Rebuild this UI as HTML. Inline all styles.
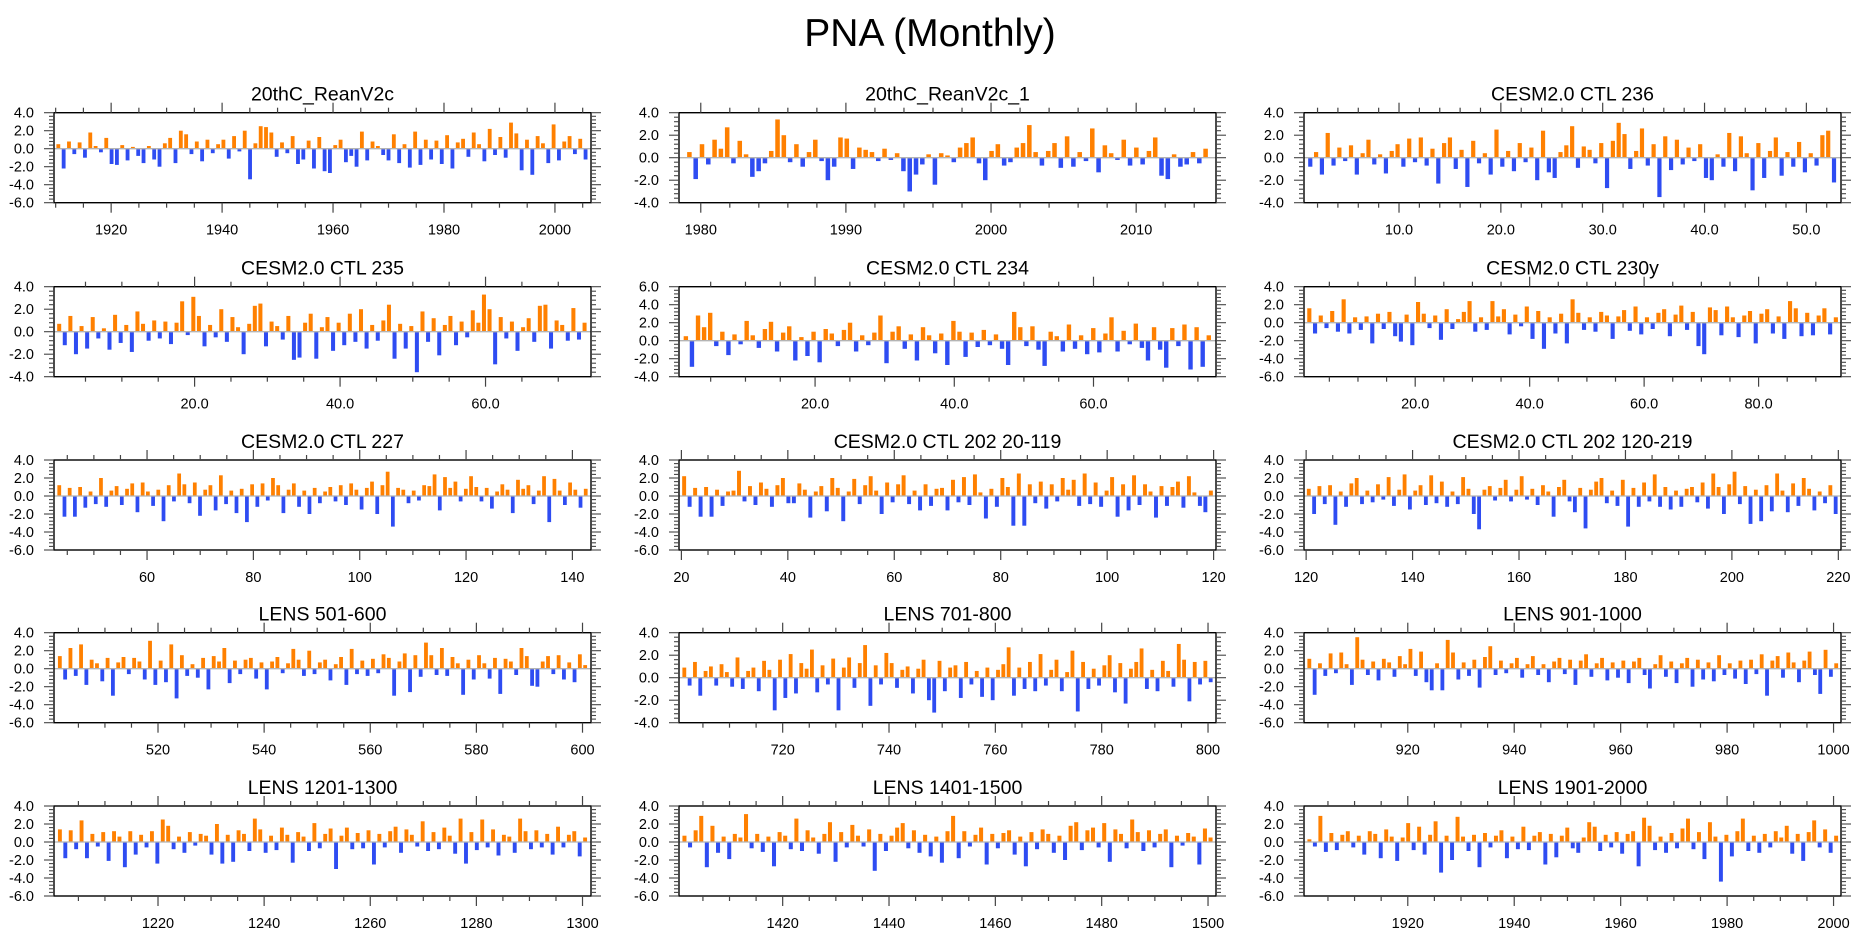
<!DOCTYPE html>
<html><head><meta charset="utf-8"><title>PNA (Monthly)</title>
<style>
html,body{margin:0;padding:0;background:#fff;}
svg text{font-family:"Liberation Sans",Arial,sans-serif;fill:#000;}
</style></head>
<body>
<svg id="fig" xmlns="http://www.w3.org/2000/svg" width="1861" height="936" viewBox="0 0 1861 936">
<rect width="1861" height="936" fill="#fff"/>
<text x="930" y="46" font-size="39" text-anchor="middle">PNA (Monthly)</text>
</svg>
<script>
// ---- panel meta ----
const titles = ["20thC_ReanV2c","20thC_ReanV2c_1","CESM2.0 CTL 236","CESM2.0 CTL 235","CESM2.0 CTL 234","CESM2.0 CTL 230y","CESM2.0 CTL 227","CESM2.0 CTL 202 20-119","CESM2.0 CTL 202 120-219","LENS 501-600","LENS 701-800","LENS 901-1000","LENS 1201-1300","LENS 1401-1500","LENS 1901-2000"];
const xMins = [1909.7,1978.5,0.67,0.67,0.45,0.57,42.5,19.55,119.6,500.4,700.5,900.5,1200.4,1400.5,1900.5];
const xMaxs = [2006.5,2015.5,53.4,74.5,77.6,94.4,143.5,120.45,220.5,601.6,801.5,1001.4,1301.6,1501.5,2001.4];
const dataStart = [1910,1979,1,1,1,1,43,20,120,501,701,901,1201,1401,1901];
const dataEnd = [2006,2015,53,74,77,94,143,120,220,601,801,1001,1301,1501,2001];
const xMajorStep = [20,10,10,20,20,20,20,20,20,20,20,20,20,20,20];
const xMinorStep = [5,2,2,5,5,5,5,5,5,5,5,5,5,5,5];
const xDecimals = [0,0,1,1,1,1,0,0,0,0,0,0,0,0,0];
const yMins = [-6,-4,-4,-4,-4,-6,-6,-6,-6,-6,-4,-6,-6,-6,-6];
const yMaxs = [4,4,4,4,6,4,4,4,4,4,4,4,4,4,4];

// ---- series values (PNA index, estimated) ----
const s1 = [0.5,-2.2,0.8,-0.6,0.7,-1.0,1.8,0.3,-0.4,1.2,-1.7,-1.8,0.4,-1.3,0.2,-0.8,-1.6,0.3,-1.2,-2.0,0.6,1.2,-1.6,2.0,1.6,-0.6,0.8,-1.4,1.0,-0.5,0.5,1.0,-1.1,1.4,-0.3,2.0,-3.4,0.6,2.5,2.4,1.8,-0.9,0.7,-0.5,1.4,-1.7,-1.2,0.9,-2.2,1.3,-2.5,-2.7,0.4,1.0,-1.5,-0.8,-2.0,1.9,-1.3,0.8,0.3,-0.7,-1.3,1.6,-1.6,0.5,-2.1,1.9,-1.8,1.0,-1.2,0.9,-1.7,1.5,-2.2,0.7,1.1,-0.9,1.8,0.5,-1.4,2.2,-0.7,1.3,-1.0,2.9,1.7,-2.4,1.0,-2.9,1.4,0.6,-1.6,2.7,-1.3,0.8,1.4,-0.6,1.1,-1.2];
const s2 = [0.5,-1.9,1.2,-0.6,1.6,0.8,2.7,-0.5,1.5,0.3,-1.7,-1.2,-0.5,0.6,3.4,2.0,-0.4,1.2,-0.8,0.5,1.6,-0.3,-2.0,-0.8,1.8,1.7,-1.0,0.9,0.7,0.5,-0.3,0.8,-0.2,0.4,-1.2,-3.0,-1.5,-0.6,0.3,-2.4,0.4,0.2,-0.4,0.9,1.3,1.8,-0.5,-2.0,0.6,1.2,-0.7,-0.4,0.9,1.3,2.9,0.5,-0.7,0.6,1.3,-0.9,1.9,-0.8,0.5,-0.3,2.6,-1.3,1.1,0.4,-0.2,1.6,-0.7,0.9,-0.6,0.6,1.8,-1.6,-1.9,0.3,-0.8,-0.6,0.5,-0.5,0.8];
const s3 = [-0.8,0.5,-1.5,2.2,-0.7,0.9,-0.3,1.1,-1.5,0.4,1.6,-0.6,0.3,-1.4,0.6,1.2,-0.8,1.7,-0.4,1.8,-0.7,0.8,-2.3,1.3,1.8,-1.0,0.7,-2.6,1.5,-0.5,0.4,-1.5,2.5,-0.8,0.6,-1.2,1.3,-0.4,0.9,-2.0,2.4,-1.3,-1.8,0.5,1.1,2.8,-0.9,1.0,0.7,-0.5,1.3,-2.7,1.5,3.1,2.1,-1.0,0.6,2.6,-0.7,1.2,-3.5,1.9,-1.1,1.6,-0.6,0.9,-0.3,1.2,-1.8,-2.0,0.3,-0.8,2.2,-1.2,1.9,0.4,-2.9,1.3,-1.8,0.6,1.8,-1.6,0.5,-0.8,1.4,-1.3,0.4,-0.7,2.0,2.4,-2.2];
const s4 = [0.7,-1.2,1.4,-2.0,0.5,-1.5,1.3,-0.6,0.3,-1.6,1.5,-1.0,0.6,-1.8,1.8,0.7,-0.8,1.0,-0.6,0.9,-1.1,0.8,2.7,-0.3,3.1,1.4,-1.3,0.6,-0.5,2.0,-0.9,1.3,0.4,-2.0,0.7,2.3,2.5,-1.3,0.9,0.5,-0.7,1.4,-2.5,-2.3,0.8,1.6,-2.4,0.4,1.3,-1.7,0.8,-1.2,1.6,-0.9,2.0,-1.5,0.6,-0.8,1.0,2.4,-2.4,0.7,-1.5,0.5,-3.6,1.8,-0.9,1.2,-2.1,0.6,1.4,-1.2,0.9,-0.5,1.9,0.8,3.3,2.0,-2.9,1.3,-0.6,0.9,-1.7,0.4,1.2,-0.9,2.3,2.4,-1.5,1.0,0.6,-0.8,2.1,-0.7,0.8];
const s5 = [0.5,-2.9,2.8,1.5,3.1,-0.6,1.0,-1.6,0.7,-0.4,2.2,0.6,-0.8,1.3,2.1,-1.2,0.9,1.6,-2.2,0.4,-1.7,1.0,-2.4,1.3,0.8,-0.6,1.2,2.0,-1.2,0.6,-0.5,0.9,2.8,-2.5,1.0,1.6,-0.9,0.7,-2.2,1.5,0.6,-1.4,0.8,-2.7,2.2,1.0,-1.8,0.9,-0.7,1.2,-0.5,0.7,-0.9,-2.7,3.2,1.5,-0.6,1.6,-1.0,-2.8,1.0,0.5,-1.2,1.8,-0.9,0.6,-1.5,1.4,-1.3,0.8,2.6,-1.2,1.1,-0.4,1.9,-0.8,-2.2,1.5,-1.0,-3.0,1.4,-0.6,1.8,-3.2,1.5,-2.9,0.6];
const s6 = [1.6,-1.2,0.8,-0.6,1.3,-1.0,2.6,-1.2,0.6,-0.8,0.7,-2.3,1.0,-0.7,1.2,-1.5,-2.1,0.9,-2.5,2.3,1.0,-0.6,0.8,-1.9,1.5,-0.7,0.4,1.2,2.4,-1.0,0.6,-0.8,2.4,0.7,1.5,-1.3,0.9,-0.4,1.8,-1.8,1.3,-2.9,0.6,-1.2,1.0,-2.3,2.6,1.1,-0.8,0.6,-1.0,1.2,0.8,-1.8,0.7,1.4,-0.9,1.8,-1.3,0.6,-0.7,1.1,1.5,-1.5,0.9,1.9,-0.8,1.2,-2.6,-3.5,1.7,1.4,-1.4,1.8,0.6,-1.6,0.8,1.3,-2.3,1.0,1.5,-1.2,0.7,-1.8,2.4,1.6,-1.5,1.1,-1.4,0.8,1.6,-1.3,0.6];
const s7 = [1.2,-2.3,0.9,-2.3,1.0,-1.3,0.5,-0.9,2.0,-1.2,0.6,1.1,-1.0,0.8,1.4,-1.8,1.5,0.5,-1.1,0.7,-2.8,1.2,-0.6,2.5,1.3,-0.8,1.5,-2.2,0.7,1.2,-1.6,2.3,-0.9,0.6,-1.9,0.8,-2.9,1.3,-1.2,1.4,-0.5,2.0,1.2,-1.9,0.7,1.4,-1.2,0.6,-2.0,0.9,-0.8,0.5,1.0,-0.6,1.2,-1.0,1.4,0.7,-1.5,0.9,1.6,-2.0,1.2,2.7,-3.4,0.9,0.7,-0.8,0.6,-0.5,1.2,1.1,2.4,-1.6,2.1,0.9,1.6,-0.6,0.8,2.2,1.0,-0.6,0.9,-1.4,0.5,1.3,0.7,-1.9,1.8,0.8,1.2,-0.9,0.6,2.2,-2.9,1.9,0.6,-1.0,1.5,0.7,-1.3,0.8];
const s8 = [2.2,-1.2,0.9,-2.3,1.0,-2.3,0.7,-1.1,0.5,0.6,2.8,-0.6,1.1,-1.0,1.5,0.8,-1.2,1.2,2.0,-0.8,-0.8,1.4,0.7,-2.4,0.5,1.1,-1.7,2.0,0.9,-2.8,0.5,1.9,-0.9,1.2,2.2,0.6,-2.0,1.5,-0.7,1.3,2.3,-0.9,0.6,-1.6,1.3,-1.1,0.8,0.9,-1.6,1.8,-0.7,2.1,-1.0,2.4,0.4,-2.5,0.8,-1.2,2.0,1.0,-3.3,2.5,-3.3,1.3,-0.8,1.6,-1.4,1.3,-0.6,2.0,0.7,1.8,-1.1,2.5,-0.9,1.5,-1.2,0.6,2.1,-2.3,1.3,-1.6,2.3,-1.0,1.3,0.5,-2.4,1.1,-1.1,1.0,1.6,-1.3,2.2,0.4,-1.1,-1.8,0.6];
const s9 = [0.8,-2.0,1.1,-0.9,1.2,-3.2,0.5,-1.2,1.4,2.0,-0.9,0.6,-0.7,1.3,-0.4,2.1,-1.1,0.7,2.4,-1.5,0.6,1.2,-1.0,2.3,-0.8,1.6,-1.2,0.5,-0.9,2.1,0.8,-2.0,-3.7,0.7,1.1,-0.5,0.9,1.8,-0.6,0.7,2.2,-0.4,0.8,-1.0,1.2,0.5,-2.3,1.0,1.8,-0.6,-1.8,0.9,-3.6,0.7,1.6,2.0,-0.8,0.6,-1.1,1.8,-3.4,0.9,-1.2,1.5,-0.6,2.4,-1.2,1.0,-1.5,0.6,-1.2,0.8,1.0,-0.7,1.5,-1.4,2.5,1.0,-2.0,1.3,2.7,-0.9,1.1,-3.1,0.7,-2.8,1.2,-1.7,2.5,0.6,-1.8,1.4,-1.1,2.0,0.8,-1.6,0.5,-0.8,1.2,-2.0];
const s10 = [1.4,-1.2,2.3,-0.8,2.7,-1.8,1.0,0.6,-1.4,1.2,-3.0,0.7,1.3,-0.6,1.2,0.8,-1.2,3.1,-1.8,0.9,-1.5,2.7,-3.3,1.5,-0.8,0.5,-1.0,1.2,-2.3,1.4,0.8,2.3,-1.6,0.9,-0.6,1.0,1.2,-1.1,0.7,-2.3,0.8,1.3,-0.5,0.6,2.2,1.0,-0.8,2.0,-0.6,0.7,1.0,-1.3,0.5,1.3,-1.8,2.2,-0.6,0.9,-0.8,1.1,-0.5,1.6,1.2,-3.0,0.8,1.7,-2.6,1.5,-0.9,2.9,1.5,-0.7,2.3,-0.8,1.3,0.6,-2.9,1.0,-1.2,1.5,0.6,-1.1,1.2,-2.8,1.1,0.8,-0.7,2.3,1.4,-1.9,-2.0,0.8,1.4,-0.6,1.5,-1.2,0.7,-1.5,1.6,0.4];
const s11 = [0.9,-0.7,1.4,-1.6,0.6,1.0,-0.7,1.2,0.5,-0.8,1.8,-1.0,0.6,0.9,-1.2,1.5,0.7,-2.9,1.6,-1.8,2.1,-1.4,1.3,0.8,2.5,-1.3,1.1,-0.6,1.7,-2.9,0.9,1.8,-0.9,1.3,2.9,-2.5,1.1,-0.6,2.2,1.3,-0.9,0.7,1.0,-1.4,0.8,1.6,-2.0,-3.1,1.5,-1.2,0.9,1.1,-1.8,1.4,-0.6,0.6,-1.7,0.9,-2.0,0.7,1.2,2.7,-1.6,0.9,-1.0,1.4,-1.2,2.1,-0.7,0.7,1.6,-1.2,0.5,2.4,-3.0,1.4,-1.0,0.8,-0.7,1.1,2.0,-1.3,1.3,-2.3,0.8,1.4,2.6,-1.0,0.7,-1.2,1.5,0.6,-0.8,3.0,1.6,-2.1,1.4,-0.6,1.5,-0.4];
const s12 = [1.1,-2.9,0.6,-0.8,1.7,-0.5,1.8,0.5,-1.8,3.5,1.0,-0.7,0.8,-1.3,1.1,0.7,-0.9,1.4,0.5,2.2,-0.8,1.9,-1.5,-2.4,0.6,-2.4,3.2,1.8,-1.2,0.7,-0.8,1.0,-2.1,1.3,2.5,-0.7,0.9,-0.5,0.6,1.2,-1.0,0.5,1.4,-0.7,0.5,-1.5,0.8,1.2,-0.6,1.0,-1.8,0.9,1.6,-0.9,0.6,1.2,-1.3,0.7,-1.0,0.9,-1.6,0.8,1.2,-0.7,-2.2,0.5,1.5,-0.9,0.8,-1.6,0.6,1.2,-2.0,1.0,-1.2,0.7,-1.4,1.5,-0.7,0.6,-1.1,0.9,-1.7,1.0,-0.6,1.6,-3.0,0.9,1.4,-1.0,1.8,0.7,-1.5,0.9,1.9,-0.7,-2.8,2.1,-0.9,0.6];
const s13 = [1.4,-1.8,1.3,-0.8,2.4,-1.8,0.9,-0.5,1.1,-2.1,1.2,0.6,-2.8,1.2,-1.4,0.8,-0.6,1.2,-2.4,2.5,1.8,-0.8,0.6,-1.2,1.1,-0.4,0.9,0.7,-1.4,2.0,-2.4,0.8,-2.2,1.3,0.9,-1.0,2.6,1.4,-1.2,0.7,-0.9,1.6,0.8,-2.3,1.1,0.6,-1.0,2.1,-0.7,0.9,1.5,-3.0,0.7,1.6,-0.8,1.0,-0.7,1.3,-2.5,0.9,-0.6,1.2,1.7,-1.2,1.4,0.8,-0.5,2.3,-1.0,1.1,-0.8,1.6,0.7,-1.3,2.6,-2.4,1.1,-0.9,2.5,-0.6,1.4,-1.5,0.8,0.6,-1.2,2.6,1.2,-0.8,1.3,-0.6,0.9,-1.4,1.7,-0.6,0.8,1.2,-1.6,0.5];
const s14 = [0.7,-0.6,1.3,2.9,-2.8,1.8,-1.2,0.6,-1.9,0.9,0.5,3.1,-0.7,0.9,-1.1,0.6,-2.7,1.1,0.7,-0.8,2.6,-1.0,1.3,0.5,-1.3,0.9,2.2,-2.2,1.1,-0.6,1.9,0.7,-0.5,1.4,-3.2,0.9,-1.0,0.7,1.6,2.1,-0.7,1.3,-1.2,0.8,-1.6,0.6,-2.3,1.2,2.9,-1.8,1.2,-0.5,0.8,1.6,-2.5,0.9,-0.7,1.0,1.3,-1.4,0.6,-2.7,1.1,-0.8,1.4,0.9,-1.2,0.7,-2.0,1.8,2.2,-0.9,1.3,1.6,-0.6,2.1,-2.2,1.4,0.9,-0.7,2.5,1.1,-1.0,1.3,-0.6,0.9,1.4,-2.8,0.7,-0.4,1.0,0.6,-2.5,1.5,0.5];
const s15 = [0.3,-0.5,2.9,-1.1,1.0,-0.9,0.8,1.2,-0.6,0.7,-1.4,1.2,0.9,-1.8,1.4,0.6,-2.1,0.5,2.1,-0.9,1.7,-1.4,0.8,2.3,-3.4,0.7,-2.0,2.8,0.6,-1.0,0.8,-2.8,1.0,-0.6,0.7,1.3,-1.8,0.6,-0.8,1.7,-0.9,0.7,1.1,-2.5,0.9,-1.7,0.7,1.6,-0.7,-1.2,0.5,2.2,1.7,-1.0,0.8,-0.6,1.1,-1.3,0.9,1.2,-2.7,2.7,1.8,-0.9,0.6,-1.2,1.0,-0.7,1.5,2.6,-0.8,1.1,-1.9,2.2,0.6,-4.4,0.8,-1.6,1.2,2.6,-1.0,0.7,-1.2,0.9,-0.6,1.2,0.5,1.8,-1.3,0.9,-2.1,1.1,2.4,-0.6,1.4,-1.2,0.7];
const seriesList = [s1,s2,s3,s4,s5,s6,s7,s8,s9,s10,s11,s12,s13,s14,s15];

// ---- layout ----
const colLeft = [54, 679, 1304];
const panelW = 537;
const rowTop = [112.7, 286.7, 460, 632.7, 806];
const panelH = 90;
const NS = "http://www.w3.org/2000/svg";
const svg = document.getElementById('fig');

function mk(tag, attrs, parent) {
  const e = document.createElementNS(NS, tag);
  for (const k in attrs) e.setAttribute(k, attrs[k]);
  (parent || svg).appendChild(e);
  return e;
}

seriesList.forEach(function (vals, p) {
  const L = colLeft[p % 3], T = rowTop[Math.floor(p / 3)];
  const R = L + panelW, B = T + panelH;
  const x0 = xMins[p], x1 = xMaxs[p], y0 = yMins[p], y1 = yMaxs[p];
  const xs = v => L + (v - x0) / (x1 - x0) * panelW;
  const ys = v => B - (v - y0) / (y1 - y0) * panelH;

  const g = mk('g', {});
  
  

  const t = mk('text', {x: (L + R) / 2, y: T - 12, 'font-size': 19.5, 'text-anchor': 'middle'}, g);
  
  
  t.textContent = titles[p];

  // bars
  const n = vals.length, ds = dataStart[p], de = dataEnd[p];
  const step = (de - ds) / n;
  const bw = Math.max(1.6, (xs(x0 + step) - xs(x0)) * 0.72);
  const bars = mk('g', {}, g);
  
  
  vals.forEach(function (v, i) {
    const cx = xs(ds + (i + 0.5) * step);
    const yA = ys(Math.max(v, 0)), yB = ys(Math.min(v, 0));
    const r = mk('rect', {x: (cx - bw / 2).toFixed(2), y: yA.toFixed(2), width: bw.toFixed(2), height: Math.max(0.5, yB - yA).toFixed(2), fill: v >= 0 ? '#ff8000' : '#2e4cf2'}, bars);
    
    
  });

  // zero line
  const z = mk('line', {x1: L, x2: R, y1: ys(0), y2: ys(0), stroke: '#b4b4b4', 'stroke-width': 1.3}, g);
  
  

  // frame
  const f = mk('rect', {x: L, y: T, width: panelW, height: panelH, fill: 'none', stroke: '#000', 'stroke-width': 1.4}, g);
  
  

  // x ticks
  const ms = xMinorStep[p];
  for (let v = Math.ceil(x0 / ms) * ms; v <= x1; v += ms) {
    const X = xs(v);
    const major = Math.abs(v / xMajorStep[p] - Math.round(v / xMajorStep[p])) < 1e-6;
    const len = major ? 10 : 5;
    mk('line', {x1: X, x2: X, y1: T, y2: T - len, stroke: '#444', 'stroke-width': 1.2}, g);
    mk('line', {x1: X, x2: X, y1: B, y2: B + len, stroke: '#444', 'stroke-width': 1.2}, g);
    if (major) {
      const lb = mk('text', {x: X, y: B + 32, 'font-size': 14.5, 'text-anchor': 'middle'}, g);
      
      
      lb.textContent = v.toFixed(xDecimals[p]);
    }
  }
  // y ticks
  for (let k = 0; k <= (y1 - y0) / 0.4 + 1e-6; k++) {
    const v = y0 + k * 0.4;
    const Y = ys(v);
    const major = Math.abs(v / 2 - Math.round(v / 2)) < 1e-6;
    const len = major ? 10 : 5;
    mk('line', {x1: L, x2: L - len, y1: Y, y2: Y, stroke: '#444', 'stroke-width': 1.1}, g);
    mk('line', {x1: R, x2: R + len, y1: Y, y2: Y, stroke: '#444', 'stroke-width': 1.1}, g);
    if (major) {
      const lb = mk('text', {x: L - 20, y: Y + 5, 'font-size': 14.5, 'text-anchor': 'end'}, g);
      
      
      lb.textContent = (Math.round(v * 10) / 10).toFixed(1);
    }
  }
});
</script>
</body></html>
